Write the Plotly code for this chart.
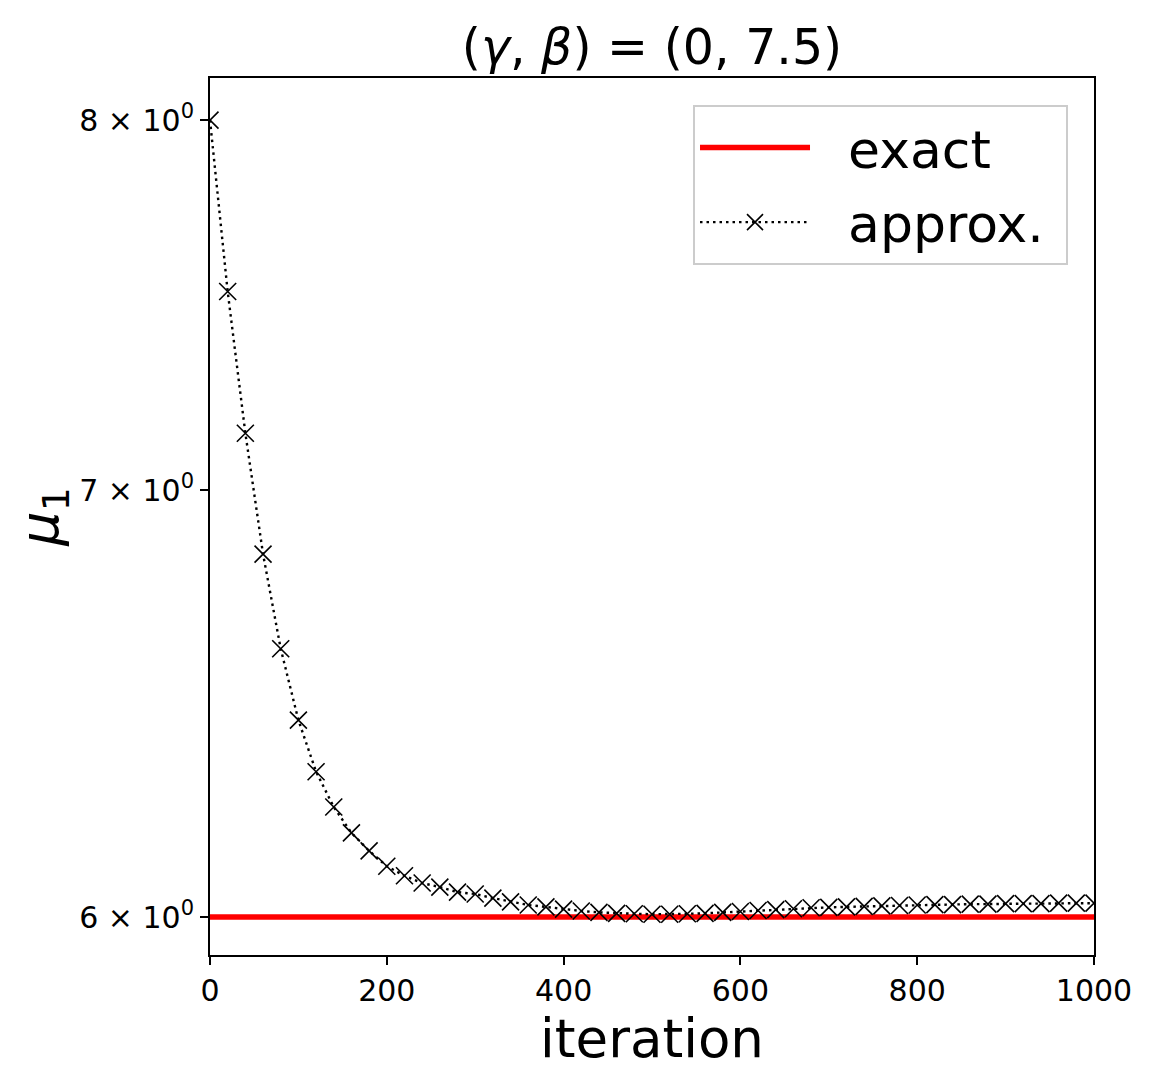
import plotly.graph_objects as go

# iterations at which the approximation is shown (every 20)
iterations = list(range(0, 1001, 20))
approx_mu1 = [
    8.000, 7.520, 7.145, 6.840, 6.610, 6.442, 6.323, 6.243, 6.185, 6.145,
    6.111, 6.090, 6.074, 6.065, 6.054, 6.050, 6.041, 6.033, 6.026, 6.022,
    6.017, 6.013, 6.010, 6.008, 6.007, 6.006, 6.006, 6.007, 6.008, 6.010,
    6.012, 6.014, 6.016, 6.018, 6.020, 6.021, 6.022, 6.023, 6.024, 6.025,
    6.026, 6.027, 6.027, 6.028, 6.028, 6.029, 6.029, 6.029, 6.030, 6.030,
    6.030,
]
exact_x = [0, 1000]
exact_mu1 = [6.0, 6.0]

x_ticks = [0, 200, 400, 600, 800, 1000]
y_ticks = [6, 7, 8]
y_ticktext = ["6 × 10<sup>0</sup>", "7 × 10<sup>0</sup>", "8 × 10<sup>0</sup>"]

FONT = "DejaVu Sans"
NB = "\u00a0"

fig = go.Figure()
fig.add_trace(go.Scatter(
    x=exact_x, y=exact_mu1, mode="lines", name=NB * 2 + "exact",
    legendgroup="exact",
    line=dict(color="#ff0000", width=5.5),
))
fig.add_trace(go.Scatter(
    x=iterations, y=approx_mu1, mode="lines+markers", name=NB * 2 + "approx." + NB,
    legendgroup="approx",
    line=dict(color="black", width=2.4, dash="2.5px,4px"),
    marker=dict(symbol="x-thin", size=17, color="black",
                line=dict(color="black", width=1.6)),
))

fig.update_layout(
    width=1153, height=1087,
    paper_bgcolor="white", plot_bgcolor="white",
    margin=dict(l=202, r=67, t=70, b=140),
    font=dict(family=FONT, color="black"),
    title=dict(text="(<i>γ</i>, <i>β</i>) = (0, 7.5)", x=0.5, xref="paper",
               xanchor="center", y=0.964, yanchor="middle",
               font=dict(size=49, family=FONT)),
    showlegend=True,
    legend=dict(
        x=0.9706, y=0.969, xanchor="right", yanchor="top",
        bgcolor="rgba(255,255,255,0.8)", bordercolor="#cccccc", borderwidth=2,
        font=dict(size=52, family=FONT),
        itemwidth=110,
        tracegroupgap=4,
    ),
)

fig.update_xaxes(
    range=[0, 1000], tickvals=x_ticks, ticks="outside", ticklen=8, tickwidth=2,
    tickcolor="black", showline=True, linecolor="black", linewidth=2, mirror=True,
    showgrid=False, zeroline=False, tickfont=dict(size=30, family=FONT),
    title=dict(text="iteration", font=dict(size=53, family=FONT), standoff=6),
)
fig.update_yaxes(
    type="log", range=[0.772193, 0.909697],
    tickvals=y_ticks, ticktext=y_ticktext, ticks="outside", ticklen=8, tickwidth=2,
    tickcolor="black", showline=True, linecolor="black", linewidth=2, mirror=True,
    showgrid=False, zeroline=False, tickfont=dict(size=30, family=FONT),
    title=dict(text="<i>μ</i><sub>1</sub>", font=dict(size=54, family=FONT), standoff=16),
)

fig.write_html("out.html")
